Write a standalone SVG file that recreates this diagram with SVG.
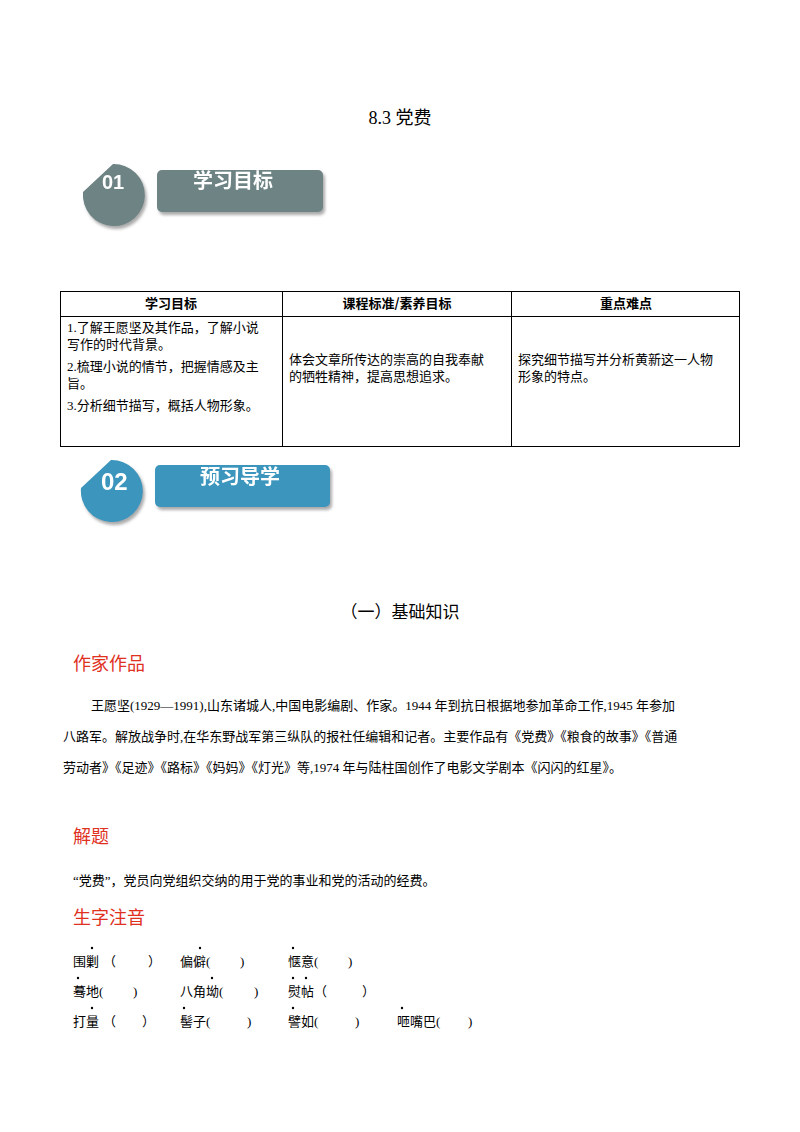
<svg xmlns="http://www.w3.org/2000/svg" width="800" height="1132" viewBox="0 0 800 1132">
<style>
text{font-family:"Liberation Serif","Noto Sans CJK SC",serif;fill:#000}
.s{font-size:13px}
.h{font-size:13px;font-weight:bold;text-anchor:middle;font-family:"Noto Sans CJK SC",sans-serif}
.red{fill:#e0311f;font-size:18px;font-family:"Noto Sans CJK SC",sans-serif}
.bt{fill:#fff;font-weight:bold;font-family:"Noto Sans CJK SC",sans-serif;font-size:20px}
.num{fill:#fff;font-weight:bold;font-family:"Liberation Sans",sans-serif}
.g{fill:none;stroke:#000;stroke-width:1}
</style>
<defs>
<filter id="sh" x="-10%" y="-10%" width="130%" height="140%"><feDropShadow dx="2" dy="3" stdDeviation="1.5" flood-color="#888" flood-opacity="0.7"/></filter>
</defs>
<rect width="800" height="1132" fill="#fff"/>
<text x="400" y="124" font-size="18" text-anchor="middle">8.3  党费</text>

<g id="badge1" filter="url(#sh)">
<path d="M83,192 L113,164 A31 31 0 1 1 83,192 Z" fill="#6e8384"/>
<text class="num" x="102" y="189" font-size="20">01</text>
<rect x="157" y="170" width="166" height="42" rx="5" fill="#6e8384"/>
<text class="bt" x="193" y="188">学习目标</text>
</g>

<g id="table">
<rect x="60.5" y="291.5" width="679" height="155" class="g"/>
<line x1="60" y1="316.5" x2="740" y2="316.5" class="g"/>
<line x1="282.5" y1="291" x2="282.5" y2="446" class="g"/>
<line x1="511.5" y1="291" x2="511.5" y2="446" class="g"/>
<text class="h" x="171" y="308">学习目标</text>
<text class="h" x="397" y="308">课程标准/素养目标</text>
<text class="h" x="626" y="308">重点难点</text>
<text class="s" x="67" y="332">1.了解王愿坚及其作品，了解小说</text>
<text class="s" x="67" y="349">写作的时代背景。</text>
<text class="s" x="67" y="371">2.梳理小说的情节，把握情感及主</text>
<text class="s" x="67" y="388">旨。</text>
<text class="s" x="67" y="410">3.分析细节描写，概括人物形象。</text>
<text class="s" x="289" y="364">体会文章所传达的崇高的自我奉献</text>
<text class="s" x="289" y="381">的牺牲精神，提高思想追求。</text>
<text class="s" x="518" y="364">探究细节描写并分析黄新这一人物</text>
<text class="s" x="518" y="381">形象的特点。</text>
</g>

<g id="badge2" filter="url(#sh)">
<path d="M81,488 L111,460 A31 31 0 1 1 81,488 Z" fill="#3a95bd"/>
<text class="num" x="101" y="490" font-size="24">02</text>
<rect x="155" y="465" width="175" height="42" rx="5" fill="#3a95bd"/>
<text class="bt" x="200" y="484">预习导学</text>
</g>

<text x="400" y="618" font-size="17" text-anchor="middle" font-family="Noto Sans CJK SC,sans-serif">（一）基础知识</text>

<text class="red" x="73" y="670">作家作品</text>
<text class="s" x="91" y="710">王愿坚(1929—1991),山东诸城人,中国电影编剧、作家。1944 年到抗日根据地参加革命工作,1945 年参加</text>
<text class="s" x="63" y="741">八路军。解放战争时,在华东野战军第三纵队的报社任编辑和记者。主要作品有《党费》《粮食的故事》《普通</text>
<text class="s" x="63" y="772">劳动者》《足迹》《路标》《妈妈》《灯光》等,1974 年与陆柱国创作了电影文学剧本《闪闪的红星》。</text>

<text class="red" x="73" y="843">解题</text>
<text class="s" x="73" y="885">“党费”，党员向党组织交纳的用于党的事业和党的活动的经费。</text>

<text class="red" x="73" y="924">生字注音</text>
<g id="words">
<text class="s" x="73" y="966">围剿</text><text class="s" x="103" y="966">（</text><text class="s" x="148" y="966">）</text>
<text class="s" x="180" y="966">偏僻(</text><text class="s" x="240" y="966">)</text>
<text class="s" x="288" y="966">惬意(</text><text class="s" x="348" y="966">)</text>
<text class="s" x="73" y="996">蓦地(</text><text class="s" x="133" y="996">)</text>
<text class="s" x="180" y="996">八角坳(</text><text class="s" x="254" y="996">)</text>
<text class="s" x="288" y="996">熨帖</text><text class="s" x="314" y="996">（</text><text class="s" x="362" y="996">）</text>
<text class="s" x="73" y="1026">打量</text><text class="s" x="103" y="1026">（</text><text class="s" x="142" y="1026">）</text>
<text class="s" x="180" y="1026">髻子(</text><text class="s" x="247" y="1026">)</text>
<text class="s" x="288" y="1026">譬如(</text><text class="s" x="355" y="1026">)</text>
<text class="s" x="397" y="1026">咂嘴巴(</text><text class="s" x="468" y="1026">)</text>
</g>
<g id="dots" fill="#000">
<circle cx="92" cy="948" r="1.2"/><circle cx="200" cy="948" r="1.2"/><circle cx="293" cy="948" r="1.2"/>
<circle cx="78" cy="978" r="1.2"/><circle cx="212" cy="978" r="1.2"/><circle cx="293" cy="978" r="1.2"/><circle cx="306" cy="978" r="1.2"/>
<circle cx="92" cy="1008" r="1.2"/><circle cx="184" cy="1008" r="1.2"/><circle cx="293" cy="1008" r="1.2"/><circle cx="402" cy="1008" r="1.2"/>
</g>
</svg>
